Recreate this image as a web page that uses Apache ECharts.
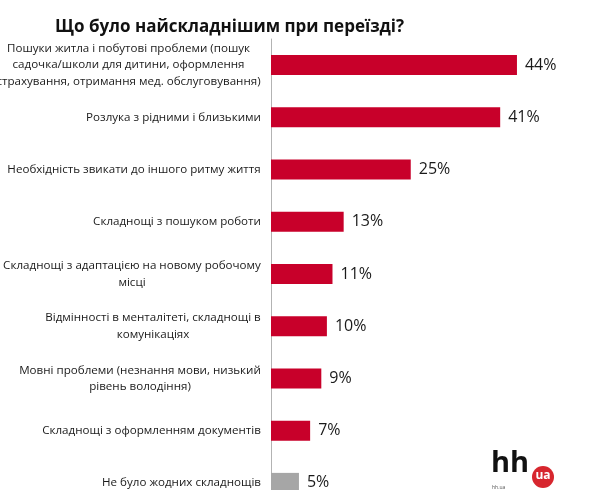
<!DOCTYPE html>
<html>
<head>
<meta charset="utf-8">
<script src="https://cdn.jsdelivr.net/npm/echarts@6/dist/echarts.min.js"></script>
<style>
    html, body { margin: 0; padding: 0; background: #fff; }
    #chart { width: 601px; height: 490px; }
</style>
</head>
<body>
<div id="chart"></div>
<script>
var categories = [
    'Пошуки житла і побутові проблеми (пошук\nсадочка/школи для дитини, оформлення\nстрахування, отримання мед. обслуговування)',
    'Розлука з рідними і близькими',
    'Необхідність звикати до іншого ритму життя',
    'Складнощі з пошуком роботи',
    'Складнощі з адаптацією на новому робочому\nмісці',
    'Відмінності в менталітеті, складнощі в\nкомунікаціях',
    'Мовні проблеми (незнання мови, низький\nрівень володіння)',
    'Складнощі з оформленням документів',
    'Не було жодних складнощів'
];
var values = [44, 41, 25, 13, 11, 10, 9, 7, 5];
var titleText = 'Що було найскладнішим при переїзді?';

var labelFont = '11.6px "Open Sans"';
var chart = echarts.init(document.getElementById('chart'));

// ширина блоку підпису, щоб рядки центрувались всередині
var ctx = document.createElement('canvas').getContext('2d');
ctx.font = labelFont;
var rich = {};
categories.forEach(function (c, i) {
    var w = 0;
    c.split('\n').forEach(function (l) {
        w = Math.max(w, ctx.measureText(l).width);
    });
    rich['c' + i] = {
        width: Math.ceil(w),
        align: 'center',
        fontSize: 11.6,
        fontFamily: 'Open Sans',
        color: '#1a1a1a',
        lineHeight: 16.5
    };
});

chart.setOption({
    animation: false,
    title: {
        text: titleText,
        left: 50,
        top: 14,
        textStyle: {
            fontFamily: 'Open Sans',
            fontSize: 17,
            fontWeight: 'bold',
            color: '#111'
        }
    },
    grid: {
        left: 271,
        top: 39,
        width: 279.5,
        height: 470,
        outerBoundsMode: 'none',
        containLabel: false
    },
    xAxis: {
        type: 'value',
        min: 0,
        max: 50,
        show: false
    },
    yAxis: {
        type: 'category',
        inverse: true,
        data: categories,
        axisLine: { lineStyle: { color: '#b3b3b3', width: 1 } },
        axisTick: { show: false },
        axisLabel: {
            margin: 10,
            interval: 0,
            formatter: function (v, i) {
                return v.split('\n').map(function (l) {
                    return '{c' + i + '|' + l + '}';
                }).join('\n');
            },
            rich: rich
        }
    },
    series: [{
        type: 'bar',
        barWidth: 20,
        data: values.map(function (v, i) {
            return {
                value: v,
                itemStyle: { color: i === values.length - 1 ? '#a6a6a6' : '#c8002a' }
            };
        }),
        label: {
            show: true,
            position: 'right',
            distance: 8,
            formatter: '{c}%',
            fontFamily: 'Open Sans',
            fontSize: 16,
            color: '#1a1a1a'
        }
    }],
    graphic: [
        {
            type: 'text',
            left: 491,
            top: 449,
            style: { text: 'hh', font: 'bold 29px "Open Sans"', fill: '#111' }
        },
        {
            type: 'circle',
            shape: { cx: 543, cy: 477, r: 11 },
            style: { fill: '#d7262e' }
        },
        {
            type: 'text',
            x: 543,
            y: 476,
            style: { text: 'ua', font: 'bold 12px "Open Sans"', fill: '#fff', align: 'center', verticalAlign: 'middle' }
        },
        {
            type: 'text',
            left: 492,
            top: 485,
            style: { text: 'hh.ua', font: '5px "Open Sans"', fill: '#555' }
        }
    ]
});
</script>
</body>
</html>
